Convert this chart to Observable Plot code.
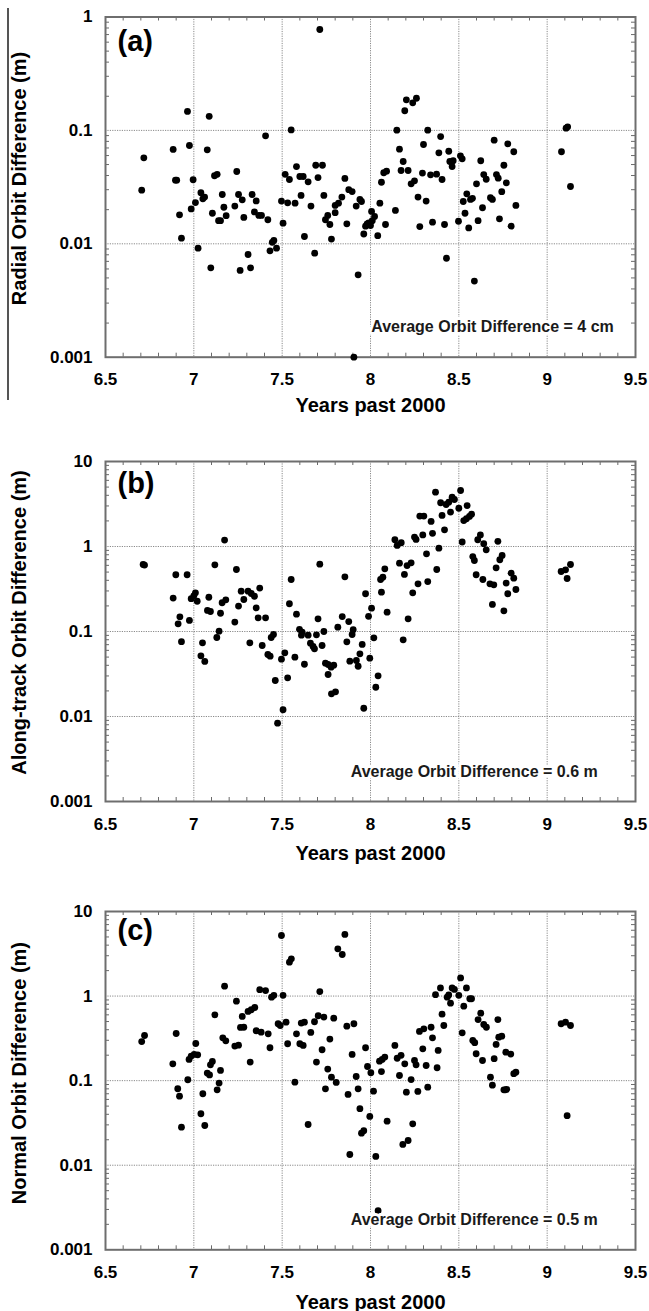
<!DOCTYPE html>
<html><head><meta charset="utf-8">
<script src="https://cdn.jsdelivr.net/npm/d3@7"></script>
<script src="https://cdn.jsdelivr.net/npm/@observablehq/plot@0.6"></script>
<style>
html,body{margin:0;padding:0;background:#fff;}
#wrap{position:relative;width:649px;height:1311px;overflow:hidden;}
#wrap svg{display:block;}
.edge{position:absolute;left:7px;top:8px;width:1.5px;height:392px;background:#555;}
</style></head><body><div id="wrap"><div class="edge"></div></div>
<script>
// ---- axis ticks ----
const xTicks = [6.5, 7, 7.5, 8, 8.5, 9, 9.5];
const xGrid = [7, 7.5, 8, 8.5, 9];
const yTicksRadial = [0.001, 0.01, 0.1, 1];
const yTicksOther = [0.001, 0.01, 0.1, 1, 10];

// ---- (a) Radial ----
const radialYears = [6.705,6.717,6.883,6.896,6.903,6.919,6.930,6.964,6.975,6.985,6.996,7.009,7.024,7.040,7.051,7.061,7.076,7.087,7.096,7.105,7.117,7.132,7.140,7.151,7.161,7.170,7.183,7.232,7.243,7.253,7.262,7.274,7.283,7.307,7.321,7.330,7.343,7.353,7.368,7.383,7.406,7.419,7.431,7.444,7.453,7.468,7.496,7.505,7.517,7.531,7.541,7.551,7.573,7.581,7.600,7.607,7.619,7.626,7.647,7.663,7.684,7.690,7.703,7.713,7.728,7.736,7.745,7.758,7.770,7.779,7.800,7.819,7.800,7.838,7.855,7.866,7.877,7.896,7.906,7.919,7.930,7.940,7.949,7.962,7.972,7.981,7.990,8.000,8.010,8.006,8.023,8.041,8.053,8.062,8.075,8.085,8.091,8.141,8.149,8.164,8.173,8.185,8.194,8.203,8.213,8.230,8.239,8.249,8.260,8.269,8.279,8.294,8.300,8.315,8.324,8.340,8.351,8.374,8.387,8.397,8.405,8.419,8.430,8.443,8.449,8.462,8.468,8.498,8.509,8.519,8.525,8.535,8.545,8.556,8.566,8.577,8.588,8.600,8.609,8.624,8.634,8.641,8.655,8.679,8.690,8.700,8.713,8.723,8.730,8.743,8.755,8.769,8.777,8.796,8.811,8.823,9.081,9.107,9.116,9.132];
const radialDiff = [0.0297,0.0573,0.068,0.0364,0.0364,0.018,0.0112,0.147,0.0736,0.0203,0.0367,0.0231,0.00915,0.0282,0.0249,0.0258,0.0674,0.133,0.00614,0.0186,0.0398,0.041,0.016,0.016,0.0272,0.021,0.0177,0.0215,0.0434,0.0272,0.00582,0.0244,0.0171,0.00805,0.00614,0.0272,0.0191,0.0239,0.0178,0.0178,0.0896,0.0163,0.00867,0.0103,0.0107,0.00915,0.0238,0.0152,0.041,0.023,0.0369,0.101,0.0228,0.048,0.0392,0.0267,0.0392,0.0116,0.0352,0.0215,0.00826,0.0493,0.0384,0.776,0.0493,0.0267,0.0163,0.0178,0.0148,0.011,0.0218,0.0228,0.0188,0.0258,0.0377,0.015,0.030,0.0289,0.001,0.0215,0.00533,0.0246,0.0236,0.0122,0.0143,0.015,0.0153,0.0145,0.016,0.0193,0.0174,0.0118,0.0228,0.0349,0.0423,0.0148,0.0437,0.0197,0.1004,0.0683,0.0443,0.0532,0.149,0.186,0.0443,0.0338,0.175,0.0359,0.192,0.0258,0.0142,0.042,0.0751,0.0238,0.1004,0.0406,0.0155,0.0411,0.0634,0.0883,0.0369,0.0148,0.00746,0.0655,0.0532,0.048,0.054,0.0158,0.0597,0.0562,0.0236,0.0186,0.0276,0.0138,0.0246,0.0252,0.00469,0.0338,0.016,0.054,0.0208,0.0408,0.0371,0.0255,0.0246,0.082,0.0408,0.0379,0.0166,0.0288,0.0493,0.0345,0.0762,0.0143,0.0648,0.0218,0.0648,0.1046,0.1076,0.032];

// ---- (b) Along-track ----
const alongYears = [6.713,6.721,6.883,6.898,6.911,6.921,6.930,6.962,6.975,6.985,7.000,7.009,7.019,7.040,7.049,7.062,7.077,7.085,7.094,7.119,7.151,7.160,7.174,7.181,7.130,7.143,7.232,7.241,7.253,7.268,7.283,7.307,7.325,7.343,7.317,7.353,7.364,7.373,7.387,7.406,7.419,7.432,7.438,7.451,7.461,7.474,7.496,7.505,7.515,7.531,7.541,7.551,7.572,7.581,7.598,7.613,7.609,7.626,7.647,7.660,7.675,7.683,7.694,7.703,7.713,7.726,7.736,7.745,7.760,7.760,7.777,7.792,7.779,7.802,7.815,7.840,7.855,7.866,7.877,7.883,7.896,7.902,7.920,7.930,7.940,7.953,7.962,7.972,7.989,7.996,8.006,8.019,8.030,8.043,8.057,8.062,8.070,8.081,8.094,8.138,8.151,8.164,8.174,8.185,8.192,8.207,8.213,8.230,8.239,8.249,8.258,8.269,8.279,8.296,8.302,8.317,8.324,8.343,8.351,8.368,8.375,8.387,8.397,8.405,8.419,8.428,8.443,8.453,8.462,8.475,8.500,8.510,8.519,8.528,8.543,8.547,8.560,8.572,8.579,8.588,8.598,8.607,8.622,8.636,8.641,8.655,8.676,8.690,8.698,8.711,8.721,8.732,8.745,8.755,8.768,8.777,8.796,8.811,8.823,9.079,9.104,9.113,9.132];
const alongDiff = [0.614,0.605,0.247,0.465,0.123,0.149,0.076,0.465,0.135,0.243,0.263,0.285,0.227,0.0518,0.0736,0.0444,0.177,0.253,0.172,0.608,0.164,0.218,1.19,0.236,0.085,0.101,0.129,0.536,0.199,0.298,0.238,0.298,0.28,0.26,0.0736,0.19,0.145,0.324,0.0684,0.145,0.0536,0.0512,0.085,0.0922,0.0265,0.00835,0.0472,0.012,0.0561,0.0285,0.212,0.409,0.0499,0.16,0.106,0.098,0.0906,0.0412,0.0906,0.0728,0.0666,0.0625,0.0914,0.141,0.62,0.0684,0.1,0.0424,0.0409,0.0312,0.038,0.0402,0.0185,0.0195,0.1124,0.15,0.44,0.0757,0.131,0.0448,0.0922,0.105,0.0456,0.039,0.0546,0.0704,0.0125,0.278,0.151,0.0485,0.188,0.0843,0.0221,0.0301,0.409,0.29,0.435,0.546,0.169,1.2,1.03,0.637,1.11,0.0798,0.469,0.597,0.141,0.643,0.285,1.29,1.21,0.364,2.28,1.37,2.28,0.82,0.387,1.97,1.43,4.36,0.536,0.955,3.27,2.32,1.57,3.12,3.32,2.54,3.8,3.57,2.82,4.56,1.13,2.02,2.12,3.03,2.26,2.4,0.762,0.684,0.465,1.2,1.37,0.409,1.08,0.914,0.364,0.208,0.354,0.561,1.15,0.698,0.784,0.175,0.371,0.278,0.485,0.424,0.312,0.508,0.532,0.42,0.614];

// ---- (c) Normal ----
const normalYears = [6.705,6.721,6.881,6.900,6.909,6.919,6.930,6.966,6.973,6.985,7.002,7.011,7.022,7.040,7.051,7.062,7.076,7.089,7.094,7.105,7.119,7.132,7.143,7.151,7.164,7.174,7.181,7.232,7.241,7.253,7.264,7.274,7.283,7.307,7.319,7.325,7.345,7.353,7.373,7.381,7.406,7.421,7.431,7.440,7.453,7.477,7.489,7.496,7.505,7.522,7.531,7.541,7.552,7.572,7.581,7.600,7.608,7.619,7.626,7.647,7.662,7.683,7.694,7.704,7.713,7.726,7.736,7.745,7.758,7.770,7.779,7.792,7.806,7.815,7.840,7.855,7.866,7.873,7.883,7.896,7.906,7.919,7.930,7.940,7.949,7.962,7.972,7.983,7.996,8.002,8.017,8.030,8.043,8.051,8.062,8.066,8.081,8.094,8.138,8.151,8.164,8.173,8.183,8.194,8.203,8.213,8.230,8.239,8.249,8.258,8.268,8.277,8.296,8.302,8.315,8.324,8.343,8.351,8.368,8.377,8.383,8.396,8.405,8.415,8.434,8.443,8.453,8.462,8.475,8.500,8.510,8.519,8.528,8.543,8.562,8.572,8.579,8.590,8.598,8.609,8.624,8.634,8.641,8.656,8.679,8.690,8.700,8.711,8.721,8.726,8.743,8.755,8.763,8.771,8.766,8.794,8.811,8.823,9.079,9.104,9.113,9.132];
const normalDiff = [0.290,0.342,0.158,0.361,0.0802,0.0656,0.0282,0.1025,0.178,0.195,0.204,0.275,0.202,0.0406,0.07,0.0295,0.123,0.117,0.154,0.169,0.601,0.078,0.0935,0.132,0.321,1.31,0.296,0.256,0.871,0.263,0.426,0.574,0.428,0.658,0.166,0.689,0.733,0.389,1.19,0.374,1.16,0.358,0.245,0.97,1.02,0.471,0.449,5.2,1.02,0.492,0.273,2.52,2.76,0.096,0.358,0.273,0.479,0.261,0.492,0.0303,0.372,0.497,0.166,0.585,1.13,0.232,0.564,0.080,0.137,0.31,0.110,0.548,0.0953,3.62,3.1,5.35,0.441,0.0687,0.0134,0.204,0.471,0.112,0.080,0.0466,0.0239,0.0256,0.245,0.147,0.0378,0.124,0.075,0.0127,0.0029,0.17,0.128,0.178,0.19,0.0332,0.261,0.184,0.115,0.199,0.0176,0.158,0.073,0.0196,0.103,0.0309,0.173,0.154,0.0745,0.382,0.238,0.41,0.151,0.0838,0.428,0.321,1.04,0.142,0.228,1.25,0.611,0.449,0.97,1.03,0.824,1.25,1.2,1.02,1.64,0.368,0.76,1.25,0.93,0.93,0.299,0.281,0.208,0.528,0.628,0.173,0.461,0.428,0.110,0.0885,0.182,0.268,0.528,0.327,0.336,0.078,0.078,0.079,0.217,0.206,0.121,0.126,0.471,0.492,0.0385,0.449];

const FONT = "'Liberation Sans', Arial, Helvetica, sans-serif";

function makePanel(cfg) {
  const W = 649, ml = 105, mr = 14;
  const ph = cfg.height - cfg.mt - cfg.mb;
  const pw = W - ml - mr;
  const data = cfg.xs.map((x, i) => ({x, y: cfg.ys[i]}));
  const dec = cfg.yTicks;
  const minorY = [];
  for (let i = 0; i < dec.length - 1; i++) for (let k = 2; k <= 9; k++) minorY.push(dec[i] * k);
  const minorX = d3.range(66, 95).map(v => v / 10).filter(v => !xTicks.includes(v));
  const gridY = dec.slice(1, -1);
  const tickStroke = "#6a6a6a";
  return Plot.plot({
    width: W, height: cfg.height,
    marginLeft: ml, marginRight: mr, marginTop: cfg.mt, marginBottom: cfg.mb,
    style: {fontFamily: FONT, fontWeight: "bold", fontSize: "17px", color: "#000", background: "#fff", overflow: "visible"},
    x: {domain: [6.5, 9.5]},
    y: {type: "log", domain: [dec[0], dec[dec.length - 1]]},
    marks: [
      Plot.ruleX(xGrid, {stroke: "#8a8a8a", strokeWidth: 1, strokeDasharray: "1.2,1.2"}),
      Plot.ruleY(gridY, {stroke: "#8a8a8a", strokeWidth: 1, strokeDasharray: "1.2,1.2"}),
      Plot.ruleX(minorX, {insetTop: ph - 4, stroke: tickStroke}),
      Plot.ruleX(minorX, {insetBottom: ph - 4, stroke: tickStroke}),
      Plot.ruleY(minorY, {insetLeft: pw - 4, stroke: tickStroke}),
      Plot.ruleY(minorY, {insetRight: pw - 4, stroke: tickStroke}),
      Plot.frame({stroke: "#6e6e6e", strokeWidth: 2}),
      Plot.axisX({ticks: xTicks, tickSize: 0, tickPadding: 16, tickFormat: d => String(d), fontSize: 17, label: null}),
      Plot.axisY({ticks: dec, tickSize: 0, tickPadding: 13, tickFormat: d => String(d), fontSize: 17, label: null}),
      Plot.dot(data, {x: "x", y: "y", r: 3.4, fill: "#000"}),
      Plot.text([cfg.letter], {frameAnchor: "top-left", dx: 12, dy: cfg.letterDy, fontSize: 29, textAnchor: "start", lineAnchor: "bottom", fill: "#000"}),
      Plot.text([cfg.note], {frameAnchor: "bottom-left", dx: cfg.noteDx, dy: -25, fontSize: 16, textAnchor: "middle", lineAnchor: "bottom", fill: "#1a1a1a", stroke: "#fff", strokeWidth: 6, paintOrder: "stroke"}),
      Plot.text([cfg.ylabel], {frameAnchor: "left", dx: -80, dy: cfg.ylabelDy, rotate: -90, fontSize: 20, textAnchor: "middle", lineAnchor: "bottom", fill: "#000"}),
      Plot.text(["Years past 2000"], {frameAnchor: "bottom", dy: cfg.xlabelDy, fontSize: 20, textAnchor: "middle", lineAnchor: "bottom", fill: "#000"})
    ]
  });
}

const wrap = document.getElementById("wrap");
wrap.appendChild(makePanel({
  xs: radialYears, ys: radialDiff, yTicks: yTicksRadial,
  height: 430, mt: 16.5, mb: 73.3,
  letter: "(a)", letterDy: 34.2,
  note: "Average Orbit Difference = 4 cm", noteDx: 387,
  ylabel: "Radial Orbit Difference (m)", ylabelDy: -8.6, xlabelDy: 55
}));
wrap.appendChild(makePanel({
  xs: alongYears, ys: alongDiff, yTicks: yTicksOther,
  height: 450, mt: 31, mb: 79,
  letter: "(b)", letterDy: 31.3,
  note: "Average Orbit Difference = 0.6 m", noteDx: 368.7,
  ylabel: "Along-track Orbit Difference (m)", ylabelDy: -9, xlabelDy: 58
}));
wrap.appendChild(makePanel({
  xs: normalYears, ys: normalDiff, yTicks: yTicksOther,
  height: 431, mt: 31, mb: 61.7,
  letter: "(c)", letterDy: 28,
  note: "Average Orbit Difference = 0.5 m", noteDx: 368.7,
  ylabel: "Normal Orbit Difference (m)", ylabelDy: -7.5, xlabelDy: 58.7
}));
</script>
</body></html>
